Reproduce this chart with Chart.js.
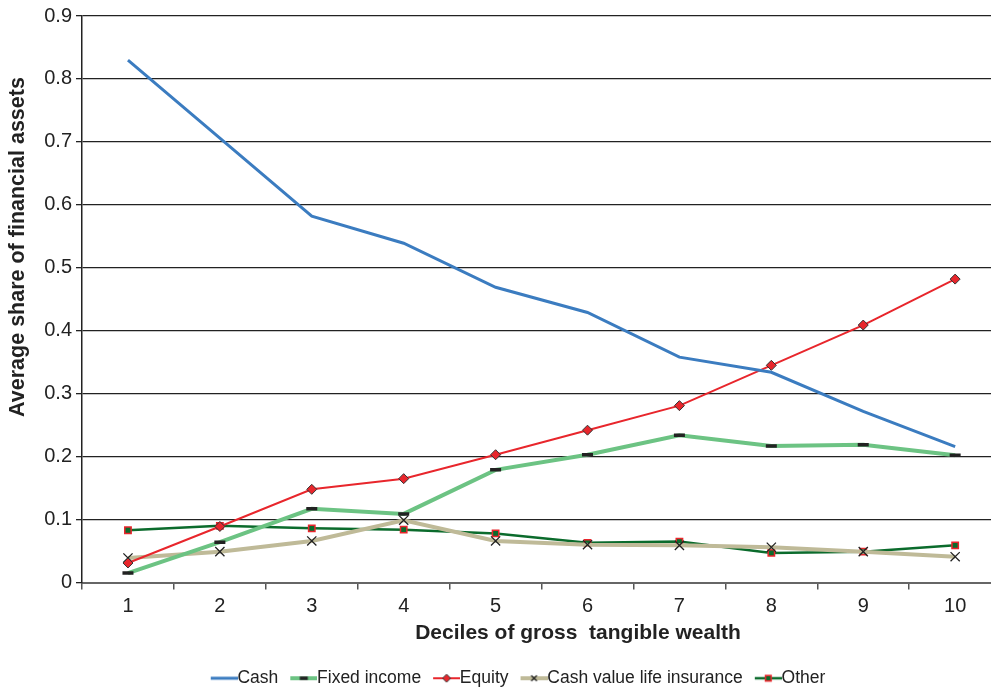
<!DOCTYPE html>
<html>
<head>
<meta charset="utf-8">
<script src="https://cdn.jsdelivr.net/npm/chart.js@4"></script>
<style>
  body { margin: 0; background: #fff; overflow: hidden; }
  #wrap { width: 991px; height: 687px; overflow: hidden; }
</style>
</head>
<body>
<div id="wrap"><canvas id="assetChart" width="1000" height="687"></canvas></div>
<script>
// deciles of gross tangible wealth
const deciles = [1, 2, 3, 4, 5, 6, 7, 8, 9, 10];

// average share of financial assets
const cash = [0.830, 0.706, 0.582, 0.539, 0.469, 0.429, 0.358, 0.334, 0.272, 0.216];
const fixedIncome = [0.015, 0.064, 0.117, 0.109, 0.179, 0.203, 0.234, 0.217, 0.219, 0.202];
const equity = [0.031, 0.089, 0.148, 0.165, 0.203, 0.242, 0.281, 0.345, 0.409, 0.482];
const lifeInsurance = [0.039, 0.049, 0.066, 0.099, 0.066, 0.060, 0.059, 0.056, 0.049, 0.041];
const other = [0.083, 0.090, 0.086, 0.084, 0.078, 0.063, 0.065, 0.047, 0.049, 0.059];

const yTicks = [0, 0.1, 0.2, 0.3, 0.4, 0.5, 0.6, 0.7, 0.8, 0.9];

const xTitle = 'Deciles of gross  tangible wealth';
const yTitle = 'Average share of financial assets';

const FONT = "'Liberation Sans', Arial, sans-serif";

function toPoints(values) {
    return values.map((v, i) => ({ x: deciles[i], y: v }));
}

// little line+marker picture for the legend (line sits in the right part,
// so it runs right up to the label text)
function legendIcon(ds) {
    const c = document.createElement('canvas');
    c.width = 36;
    c.height = 12;
    const g = c.getContext('2d');
    g.strokeStyle = ds.borderColor;
    g.lineWidth = ds.borderWidth;
    g.beginPath();
    g.moveTo(9, 6);
    g.lineTo(36, 6);
    g.stroke();
    if (ds.pointStyle !== false) {
        g.fillStyle = ds.pointBackgroundColor;
        g.strokeStyle = ds.pointBorderColor;
        g.lineWidth = ds.pointBorderWidth;
        Chart.helpers.drawPoint(g, {
            pointStyle: ds.pointStyle,
            radius: Math.min(ds.pointRadius, 4),
            borderWidth: ds.pointBorderWidth,
            rotation: 0
        }, 22.5, 6);
    }
    return c;
}

const datasets = [
    {
        label: 'Cash',
        data: toPoints(cash),
        borderColor: '#3b7cc0',
        borderWidth: 3,
        pointStyle: false,
        pointRadius: 0
    },
    {
        label: 'Fixed income',
        data: toPoints(fixedIncome),
        borderColor: '#6cc383',
        borderWidth: 4,
        pointStyle: 'line',
        pointRadius: 5.5,
        pointBorderWidth: 3.5,
        pointBorderColor: '#222',
        pointBackgroundColor: '#222'
    },
    {
        label: 'Equity',
        data: toPoints(equity),
        borderColor: '#e8262c',
        borderWidth: 2,
        pointStyle: 'rectRot',
        pointRadius: 5,
        pointBorderWidth: 1,
        pointBorderColor: '#333',
        pointBackgroundColor: '#e8262c'
    },
    {
        label: 'Cash value life insurance',
        data: toPoints(lifeInsurance),
        borderColor: '#bfba98',
        borderWidth: 4,
        pointStyle: 'crossRot',
        pointRadius: 6.5,
        pointBorderWidth: 1.3,
        pointBorderColor: '#222',
        pointBackgroundColor: '#222'
    },
    {
        label: 'Other',
        data: toPoints(other),
        borderColor: '#0b6b2c',
        borderWidth: 2.5,
        pointStyle: 'rect',
        pointRadius: 4.5,
        pointBorderWidth: 1.5,
        pointBorderColor: '#e8262c',
        pointBackgroundColor: '#0b6b2c'
    }
];

// tick marks sit between the deciles, labels on the deciles
const xTickValues = [];
deciles.forEach(d => { xTickValues.push(d - 0.5); xTickValues.push(d); });

// axis titles sit off-centre in the original, so they are drawn here
const axisTitles = {
    id: 'axisTitles',
    afterLayout(chart) {
        chart.legend.left += 18;
        chart.legend.right += 18;
    },
    afterDraw(chart) {
        const g = chart.ctx;
        const area = chart.chartArea;
        g.save();
        g.fillStyle = '#222';
        g.textAlign = 'center';
        g.textBaseline = 'middle';
        g.font = 'bold 21px ' + FONT;
        g.fillText(xTitle, area.left + 496, area.bottom + 51);
        g.translate(18, area.top + 231);
        g.rotate(-Math.PI / 2);
        g.font = 'bold 21.5px ' + FONT;
        g.fillText(yTitle, 0, 0);
        g.restore();
    }
};

const ctx = document.getElementById('assetChart').getContext('2d');
new Chart(ctx, {
    type: 'line',
    data: { datasets: datasets },
    plugins: [axisTitles],
    options: {
        responsive: false,
        animation: false,
        layout: { padding: { top: 3, right: 0, left: 0, bottom: -10 } },
        elements: { line: { tension: 0 } },
        plugins: {
            tooltip: { enabled: false },
            legend: {
                position: 'bottom',
                labels: {
                    usePointStyle: true,
                    pointStyleWidth: 18,
                    boxHeight: 12,
                    padding: 12,
                    color: '#222',
                    font: { family: FONT, size: 17.5 },
                    generateLabels: chart => chart.data.datasets.map((ds, i) => ({
                        text: ds.label,
                        pointStyle: legendIcon(ds),
                        datasetIndex: i,
                        fontColor: '#222',
                        lineWidth: 0,
                        hidden: false
                    }))
                }
            }
        },
        scales: {
            x: {
                type: 'linear',
                min: 0.5,
                max: 10.39,
                afterBuildTicks: scale => {
                    scale.ticks = xTickValues.map(v => ({ value: v }));
                },
                afterFit: scale => {
                    scale.paddingLeft = 0;
                    scale.paddingRight = 0;
                    scale.height = 75;
                },
                ticks: {
                    autoSkip: false,
                    maxRotation: 0,
                    color: '#222',
                    padding: 5,
                    font: { family: FONT, size: 20 },
                    callback: v => Number.isInteger(v) ? String(v) : ''
                },
                grid: {
                    drawOnChartArea: false,
                    tickLength: 7,
                    lineWidth: 1.5,
                    tickColor: c => (c.tick && Number.isInteger(c.tick.value)) ? 'rgba(0,0,0,0)' : '#555'
                },
                border: { color: '#666', width: 2 }
            },
            y: {
                min: 0,
                max: 0.9,
                afterBuildTicks: scale => {
                    scale.ticks = yTicks.map(v => ({ value: v }));
                },
                afterFit: scale => { scale.width = 82; },
                ticks: {
                    color: '#222',
                    padding: 4,
                    font: { family: FONT, size: 20 },
                    callback: v => String(+v.toFixed(1))
                },
                grid: {
                    color: '#222',
                    lineWidth: 1.3,
                    tickLength: 6
                },
                border: { color: '#222', width: 1.5 }
            }
        }
    }
});
</script>
</body>
</html>
